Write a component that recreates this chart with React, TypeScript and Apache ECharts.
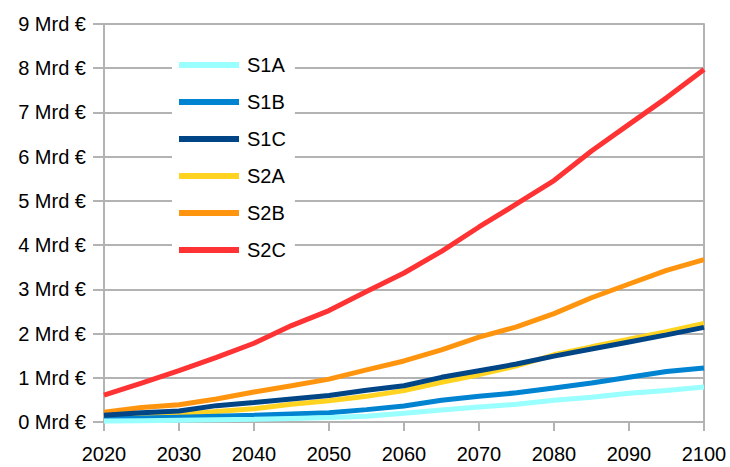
import React, { useEffect, useRef } from "react";
import * as echarts from "echarts";

const years = [2020, 2025, 2030, 2035, 2040, 2045, 2050, 2055, 2060, 2065, 2070, 2075, 2080, 2085, 2090, 2095, 2100];
const s1a = [0.02, 0.03, 0.04, 0.05, 0.06, 0.08, 0.10, 0.13, 0.20, 0.27, 0.34, 0.40, 0.49, 0.56, 0.65, 0.71, 0.79];
const s1b = [0.07, 0.09, 0.11, 0.13, 0.15, 0.18, 0.21, 0.28, 0.36, 0.49, 0.58, 0.66, 0.77, 0.88, 1.01, 1.14, 1.22];
const s1c = [0.15, 0.21, 0.25, 0.37, 0.44, 0.52, 0.60, 0.72, 0.82, 1.01, 1.16, 1.31, 1.49, 1.65, 1.81, 1.97, 2.14];
const s2a = [0.11, 0.14, 0.17, 0.24, 0.30, 0.40, 0.48, 0.58, 0.71, 0.90, 1.07, 1.27, 1.52, 1.70, 1.87, 2.04, 2.23];
const s2b = [0.22, 0.33, 0.39, 0.52, 0.68, 0.82, 0.97, 1.18, 1.38, 1.63, 1.92, 2.15, 2.45, 2.81, 3.12, 3.43, 3.67];
const s2c = [0.61, 0.88, 1.16, 1.46, 1.78, 2.18, 2.52, 2.95, 3.37, 3.86, 4.41, 4.93, 5.46, 6.13, 6.73, 7.33, 7.97];

const seriesNames = ["S1A", "S1B", "S1C", "S2A", "S2B", "S2C"];
const seriesValues = [s1a, s1b, s1c, s2a, s2b, s2c];
const seriesColors = ["#99ffff", "#0084d1", "#004586", "#ffd320", "#ff950e", "#ff3333"];
const seriesZ = [8, 6, 7, 5, 4, 3];

const GRAY = "#b3b3b3";
const FONT = "Liberation Sans, Arial, sans-serif";

export default function App() {
  const ref = useRef<HTMLDivElement>(null);
  useEffect(() => {
    if (!ref.current) return;
    const chart = echarts.init(ref.current, undefined, { renderer: "svg" });
    chart.setOption({
      animation: false,
      backgroundColor: "#ffffff",
      textStyle: { fontFamily: FONT },
      grid: { left: 104, right: 26, top: 24, bottom: 45, containLabel: false },
      legend: {
        orient: "vertical",
        left: 172,
        top: 46,
        padding: [8, 9, 8, 7],
        backgroundColor: "#ffffff",
        icon: "rect",
        itemWidth: 60,
        itemHeight: 6,
        itemGap: 15,
        data: seriesNames,
        textStyle: { fontFamily: FONT, fontSize: 20, color: "#000", lineHeight: 22, padding: [0, 0, 0, 3] },
      },
      xAxis: {
        type: "value",
        min: 2020,
        max: 2100,
        interval: 10,
        axisLine: { show: true, lineStyle: { color: GRAY, width: 2 } },
        axisTick: { show: true, length: 9, lineStyle: { color: GRAY, width: 2 } },
        splitLine: { show: false },
        axisLabel: { fontFamily: FONT, fontSize: 20, color: "#000", margin: 22, formatter: (v: number) => String(v) },
      },
      yAxis: [
        {
          type: "value",
          min: 0,
          max: 9,
          interval: 1,
          axisLine: { show: true, lineStyle: { color: GRAY, width: 2 } },
          axisTick: { show: true, length: 11, lineStyle: { color: GRAY, width: 2 } },
          splitLine: { show: true, lineStyle: { color: GRAY, width: 2 } },
          axisLabel: { fontFamily: FONT, fontSize: 20, color: "#000", margin: 18, formatter: "{value} Mrd €" },
        },
        {
          type: "value",
          position: "right",
          min: 0,
          max: 9,
          interval: 1,
          axisLine: { show: true, lineStyle: { color: GRAY, width: 2 } },
          axisTick: { show: false },
          splitLine: { show: false },
          axisLabel: { show: false },
        },
      ],
      series: seriesNames.map((name, i) => ({
        name,
        type: "line",
        showSymbol: false,
        symbol: "none",
        z: seriesZ[i],
        color: seriesColors[i],
        lineStyle: { width: 5, color: seriesColors[i] },
        data: years.map((y, j) => [y, seriesValues[i][j]]),
      })),
    });
    return () => chart.dispose();
  }, []);
  return <div ref={ref} style={{ width: 730, height: 467, position: "absolute", left: 0, top: 0 }} />;
}
